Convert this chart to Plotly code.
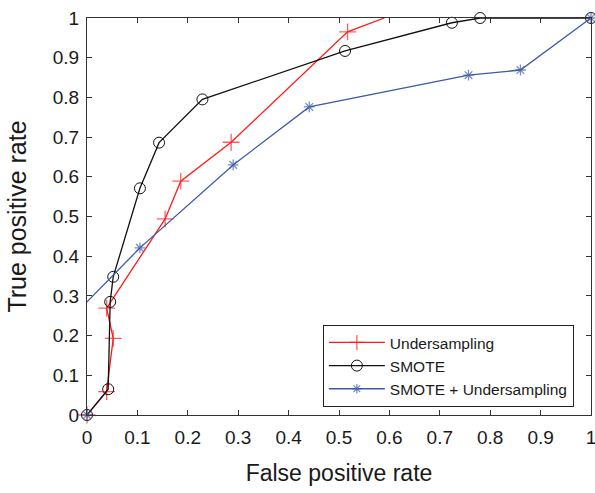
import plotly.graph_objects as go

under_x = [0, 0.039, 0.052, 0.039, 0.155, 0.186, 0.286, 0.517, 0.59]
under_y = [0, 0.059, 0.193, 0.269, 0.494, 0.589, 0.687, 0.965, 1.0]
under_msize = [12, 12, 12, 12, 12, 12, 12, 12, 0]

smote_x = [0, 0.042, 0.046, 0.052, 0.105, 0.143, 0.229, 0.512, 0.724, 0.78, 1.0]
smote_y = [0, 0.065, 0.285, 0.348, 0.571, 0.686, 0.795, 0.917, 0.988, 1.0, 1.0]

both_x = [0, -0.05, 0.105, 0.29, 0.441, 0.757, 0.86, 1.0]
both_y = [0, 0.22, 0.421, 0.63, 0.776, 0.856, 0.869, 1.0]
both_msize = [9, 0, 9, 9, 9, 9, 9, 9]

tick_vals = [0, 0.1, 0.2, 0.3, 0.4, 0.5, 0.6, 0.7, 0.8, 0.9, 1]
tick_text = ["0", "0.1", "0.2", "0.3", "0.4", "0.5", "0.6", "0.7", "0.8", "0.9", "1"]

RED = "#ff1a1a"
BLACK = "#111111"
BLUE = "#3d5aa8"

fig = go.Figure()
fig.add_trace(go.Scatter(
    x=under_x, y=under_y, mode="lines+markers", name="Undersampling",
    line=dict(color=RED, width=1.3),
    marker=dict(symbol="cross-thin-open", size=under_msize, line=dict(color=RED, width=1.3)),
    cliponaxis=False))
fig.add_trace(go.Scatter(
    x=smote_x, y=smote_y, mode="lines+markers", name="SMOTE",
    line=dict(color=BLACK, width=1.3),
    marker=dict(symbol="circle-open", size=11, color=BLACK, line=dict(color=BLACK, width=1)),
    cliponaxis=False))
fig.add_trace(go.Scatter(
    x=both_x, y=both_y, mode="lines+markers", name="SMOTE + Undersampling",
    line=dict(color=BLUE, width=1.3),
    marker=dict(symbol="asterisk-open", size=both_msize, line=dict(color=BLUE, width=1.3)),
    cliponaxis=False))

axis_common = dict(
    range=[0, 1], tickvals=tick_vals, ticktext=tick_text,
    ticks="inside", ticklen=5, tickwidth=1, tickcolor="#333333",
    showline=True, linecolor="#333333", linewidth=1, mirror="ticks",
    showgrid=False, zeroline=False, ticklabeloverflow="allow", automargin=False,
    tickfont=dict(family="Liberation Sans, Arial, sans-serif", size=19, color="#1a1a1a"),
)

fig.update_layout(
    width=595, height=493,
    margin=dict(l=87, r=4, t=18, b=78),
    paper_bgcolor="white", plot_bgcolor="white",
    font=dict(family="Liberation Sans, Arial, sans-serif", color="#1a1a1a"),
    xaxis=dict(**axis_common, ticklabelstandoff=5,
               title=dict(text="False positive rate", font=dict(size=23), standoff=18)),
    yaxis=dict(**axis_common, ticklabelstandoff=3,
               title=dict(text="True positive rate", font=dict(size=25), standoff=19)),
    legend=dict(x=0.468, y=0.227, xanchor="left", yanchor="top",
                bgcolor="white", bordercolor="#222222", borderwidth=1,
                font=dict(size=15.5), tracegroupgap=0, itemwidth=56),
    showlegend=True,
)

fig.write_html("out.html")
